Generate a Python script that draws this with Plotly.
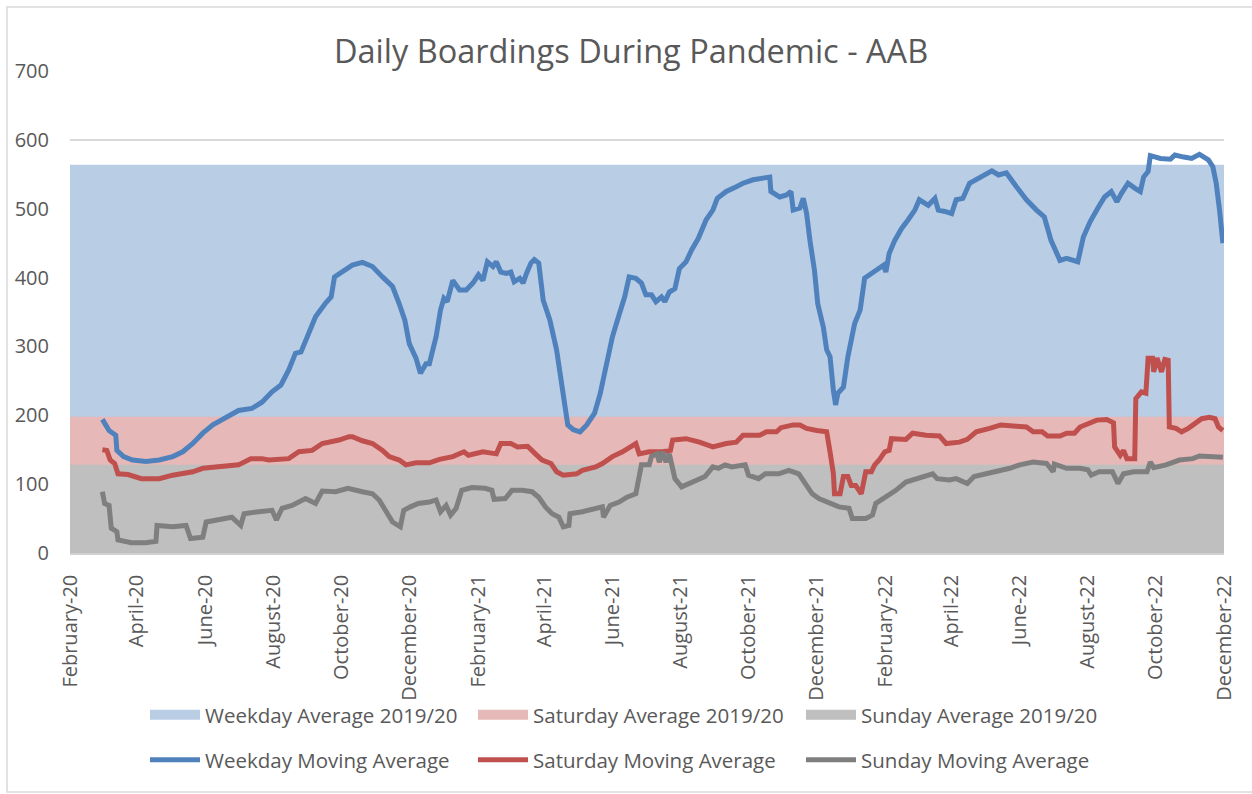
import plotly.graph_objects as go

# ---------------- data ----------------
title_text = "Daily Boardings During Pandemic - AAB"

period = ["2020-02-01", "2022-12-01"]
avg_weekday = 564
avg_saturday = 198
avg_sunday = 128

weekday_dates = [
    "2020-03-01", "2020-03-07", "2020-03-13", "2020-03-14", "2020-03-20", "2020-03-28", "2020-04-09", "2020-04-21",
    "2020-05-03", "2020-05-12", "2020-05-21", "2020-05-30", "2020-06-08", "2020-06-20", "2020-07-01", "2020-07-13",
    "2020-07-22", "2020-07-31", "2020-08-08", "2020-08-15", "2020-08-21", "2020-08-26", "2020-09-01", "2020-09-08",
    "2020-09-17", "2020-09-22", "2020-09-25", "2020-10-02", "2020-10-11", "2020-10-20", "2020-10-29", "2020-11-07",
    "2020-11-16", "2020-11-22", "2020-11-27", "2020-12-01", "2020-12-07", "2020-12-11", "2020-12-16", "2020-12-19",
    "2020-12-25", "2020-12-29", "2021-01-01", "2021-01-04", "2021-01-09", "2021-01-15", "2021-01-21", "2021-01-27",
    "2021-02-01", "2021-02-05", "2021-02-09", "2021-02-14", "2021-02-17", "2021-02-21", "2021-02-26", "2021-03-02",
    "2021-03-05", "2021-03-10", "2021-03-13", "2021-03-16", "2021-03-20", "2021-03-23", "2021-03-27", "2021-03-31",
    "2021-04-06", "2021-04-12", "2021-04-18", "2021-04-22", "2021-04-27", "2021-05-03", "2021-05-09", "2021-05-16",
    "2021-05-21", "2021-05-27", "2021-06-01", "2021-06-07", "2021-06-12", "2021-06-16", "2021-06-22", "2021-06-27",
    "2021-07-01", "2021-07-06", "2021-07-10", "2021-07-15", "2021-07-18", "2021-07-22", "2021-07-27", "2021-07-31",
    "2021-08-06", "2021-08-11", "2021-08-17", "2021-08-24", "2021-08-30", "2021-09-03", "2021-09-11", "2021-09-20",
    "2021-09-26", "2021-10-05", "2021-10-14", "2021-10-20", "2021-10-21", "2021-10-29", "2021-11-04", "2021-11-08",
    "2021-11-10", "2021-11-16", "2021-11-19", "2021-11-22", "2021-11-25", "2021-11-29", "2021-12-02", "2021-12-07",
    "2021-12-10", "2021-12-13", "2021-12-16", "2021-12-18", "2021-12-20", "2021-12-25", "2021-12-29", "2022-01-04",
    "2022-01-09", "2022-01-13", "2022-01-21", "2022-01-25", "2022-01-30", "2022-02-01", "2022-02-04", "2022-02-09",
    "2022-02-15", "2022-02-21", "2022-02-27", "2022-03-03", "2022-03-11", "2022-03-17", "2022-03-20", "2022-03-26",
    "2022-04-01", "2022-04-05", "2022-04-11", "2022-04-17", "2022-04-23", "2022-04-29", "2022-05-07", "2022-05-13",
    "2022-05-20", "2022-05-29", "2022-06-07", "2022-06-16", "2022-06-23", "2022-06-29", "2022-07-07", "2022-07-13",
    "2022-07-19", "2022-07-23", "2022-07-28", "2022-08-03", "2022-08-10", "2022-08-16", "2022-08-22", "2022-08-27",
    "2022-08-31", "2022-09-06", "2022-09-12", "2022-09-17", "2022-09-20", "2022-09-24", "2022-09-26", "2022-10-05",
    "2022-10-14", "2022-10-18", "2022-10-26", "2022-11-02", "2022-11-09", "2022-11-17", "2022-11-21", "2022-11-24",
    "2022-11-27", "2022-11-30",
]
weekday_values = [
    194, 178, 171, 149, 140, 135, 133, 135,
    140, 147, 159, 174, 186, 198, 207, 210,
    219, 234, 244, 266, 290, 292, 314, 343,
    363, 372, 401, 408, 418, 422, 416, 401,
    387, 362, 338, 304, 283, 261, 275, 275,
    314, 353, 370, 365, 396, 382, 382, 392,
    404, 396, 423, 416, 423, 408, 406, 408,
    394, 399, 392, 406, 421, 426, 421, 367,
    338, 295, 236, 186, 179, 176, 186, 203,
    231, 275, 314, 346, 372, 401, 399, 392,
    375, 375, 365, 372, 365, 379, 384, 413,
    423, 440, 457, 484, 498, 515, 525, 532,
    537, 542, 544, 546, 525, 517, 520, 525,
    498, 501, 515, 493, 454, 411, 362, 328,
    295, 285, 236, 215, 232, 241, 285, 333,
    353, 399, 408, 413, 418, 408, 435, 454,
    471, 484, 498, 513, 505, 515, 498, 496,
    493, 513, 515, 537, 542, 549, 555, 549,
    552, 532, 513, 498, 488, 454, 425, 428,
    425, 423, 459, 481, 501, 517, 525, 510,
    522, 537, 530, 525, 546, 554, 577, 573,
    572, 578, 575, 573, 579, 571, 561, 537,
    498, 450,
]

saturday_dates = [
    "2020-03-01", "2020-03-05", "2020-03-08", "2020-03-12", "2020-03-15", "2020-03-24", "2020-04-05", "2020-04-21",
    "2020-05-03", "2020-05-21", "2020-05-30", "2020-06-13", "2020-07-01", "2020-07-12", "2020-07-22", "2020-07-28",
    "2020-08-15", "2020-08-24", "2020-09-05", "2020-09-14", "2020-09-29", "2020-10-08", "2020-10-11", "2020-10-20",
    "2020-10-29", "2020-11-07", "2020-11-13", "2020-11-22", "2020-11-28", "2020-12-07", "2020-12-19", "2020-12-28",
    "2021-01-09", "2021-01-19", "2021-01-23", "2021-02-05", "2021-02-17", "2021-02-21", "2021-03-02", "2021-03-08",
    "2021-03-17", "2021-03-24", "2021-03-30", "2021-04-07", "2021-04-12", "2021-04-18", "2021-04-30", "2021-05-05",
    "2021-05-17", "2021-05-23", "2021-06-01", "2021-06-10", "2021-06-16", "2021-06-22", "2021-06-25", "2021-07-04",
    "2021-07-16", "2021-07-23", "2021-07-25", "2021-08-06", "2021-08-18", "2021-08-30", "2021-09-11", "2021-09-20",
    "2021-09-26", "2021-10-11", "2021-10-17", "2021-10-26", "2021-10-30", "2021-11-10", "2021-11-16", "2021-11-22",
    "2021-12-01", "2021-12-10", "2021-12-13", "2021-12-16", "2021-12-17", "2021-12-22", "2021-12-25", "2021-12-29",
    "2022-01-01", "2022-01-05", "2022-01-10", "2022-01-14", "2022-01-19", "2022-01-22", "2022-01-26", "2022-01-31",
    "2022-02-04", "2022-02-06", "2022-02-19", "2022-02-25", "2022-03-09", "2022-03-21", "2022-03-27", "2022-04-08",
    "2022-04-15", "2022-04-23", "2022-05-05", "2022-05-15", "2022-05-29", "2022-06-07", "2022-06-13", "2022-06-21",
    "2022-06-26", "2022-07-07", "2022-07-13", "2022-07-20", "2022-07-25", "2022-08-03", "2022-08-09", "2022-08-18",
    "2022-08-24", "2022-08-25", "2022-08-30", "2022-09-02", "2022-09-05", "2022-09-12", "2022-09-13", "2022-09-18",
    "2022-09-22", "2022-09-24", "2022-09-28", "2022-09-29", "2022-10-02", "2022-10-06", "2022-10-09", "2022-10-12",
    "2022-10-13", "2022-10-19", "2022-10-24", "2022-10-30", "2022-11-05", "2022-11-11", "2022-11-18", "2022-11-23",
    "2022-11-26", "2022-11-30",
]
saturday_values = [
    150, 149, 135, 130, 115, 114, 108, 108,
    113, 118, 123, 125, 128, 137, 137, 135,
    137, 147, 149, 159, 164, 169, 169, 163,
    159, 149, 140, 135, 128, 131, 131, 136,
    140, 147, 142, 147, 144, 159, 159, 154,
    155, 144, 135, 130, 118, 113, 115, 120,
    125, 130, 140, 147, 154, 159, 144, 147,
    147, 149, 164, 166, 161, 154, 159, 161,
    171, 171, 176, 176, 182, 186, 186, 181,
    178, 176, 147, 115, 86, 86, 111, 111,
    98, 98, 86, 118, 118, 128, 135, 147,
    149, 166, 165, 174, 171, 170, 159, 161,
    165, 176, 181, 186, 184, 183, 176, 176,
    170, 170, 174, 174, 183, 188, 193, 194,
    189, 154, 142, 149, 137, 137, 224, 234,
    232, 283, 283, 263, 283, 263, 281, 280,
    183, 181, 176, 181, 188, 195, 197, 195,
    183, 178,
]

sunday_dates = [
    "2020-03-01", "2020-03-03", "2020-03-07", "2020-03-09", "2020-03-14", "2020-03-15", "2020-03-27", "2020-04-09",
    "2020-04-18", "2020-04-19", "2020-05-03", "2020-05-15", "2020-05-19", "2020-05-30", "2020-06-02", "2020-06-13",
    "2020-06-25", "2020-07-03", "2020-07-06", "2020-07-19", "2020-07-31", "2020-08-04", "2020-08-09", "2020-08-18",
    "2020-08-30", "2020-09-08", "2020-09-14", "2020-09-26", "2020-10-07", "2020-10-20", "2020-10-29", "2020-11-04",
    "2020-11-10", "2020-11-16", "2020-11-23", "2020-11-26", "2020-12-02", "2020-12-09", "2020-12-19", "2020-12-25",
    "2020-12-29", "2021-01-03", "2021-01-07", "2021-01-12", "2021-01-17", "2021-01-26", "2021-02-07", "2021-02-13",
    "2021-02-15", "2021-02-25", "2021-03-03", "2021-03-12", "2021-03-21", "2021-03-27", "2021-04-02", "2021-04-08",
    "2021-04-14", "2021-04-18", "2021-04-23", "2021-04-24", "2021-05-05", "2021-05-17", "2021-05-23", "2021-05-24",
    "2021-05-30", "2021-06-07", "2021-06-14", "2021-06-22", "2021-06-27", "2021-07-04", "2021-07-06", "2021-07-11",
    "2021-07-13", "2021-07-16", "2021-07-19", "2021-07-22", "2021-07-27", "2021-08-02", "2021-08-11", "2021-08-23",
    "2021-08-30", "2021-09-04", "2021-09-10", "2021-09-16", "2021-09-28", "2021-10-01", "2021-10-10", "2021-10-16",
    "2021-10-28", "2021-11-06", "2021-11-15", "2021-11-21", "2021-11-27", "2021-12-03", "2021-12-12", "2021-12-21",
    "2021-12-30", "2022-01-02", "2022-01-14", "2022-01-20", "2022-01-23", "2022-02-01", "2022-02-10", "2022-02-19",
    "2022-02-28", "2022-03-03", "2022-03-15", "2022-03-19", "2022-03-30", "2022-04-05", "2022-04-15", "2022-04-21",
    "2022-05-02", "2022-05-14", "2022-05-23", "2022-06-01", "2022-06-13", "2022-06-25", "2022-07-01", "2022-07-02",
    "2022-07-13", "2022-07-25", "2022-08-01", "2022-08-04", "2022-08-11", "2022-08-23", "2022-08-28", "2022-09-02",
    "2022-09-11", "2022-09-23", "2022-09-26", "2022-09-29", "2022-10-10", "2022-10-22", "2022-11-03", "2022-11-09",
    "2022-11-21", "2022-11-30",
]
sunday_values = [
    89, 72, 69, 36, 31, 19, 15, 15,
    17, 40, 38, 40, 21, 23, 45, 48,
    52, 40, 57, 60, 62, 48, 65, 69,
    79, 72, 90, 89, 94, 89, 86, 77,
    62, 45, 38, 62, 67, 72, 74, 77,
    60, 69, 55, 65, 91, 95, 94, 91,
    78, 79, 91, 91, 89, 81, 67, 57,
    52, 38, 40, 57, 60, 65, 67, 52,
    69, 74, 81, 86, 128, 128, 140, 144,
    132, 147, 132, 144, 108, 96, 103, 111,
    125, 123, 128, 125, 128, 113, 108, 115,
    115, 120, 115, 101, 86, 79, 72, 67,
    65, 50, 50, 55, 72, 81, 91, 103,
    108, 110, 115, 108, 106, 108, 101, 111,
    115, 121, 123, 128, 132, 130, 118, 129,
    123, 123, 121, 113, 118, 118, 101, 115,
    118, 118, 132, 124, 128, 135, 137, 141,
    139, 139,
]

area_names = ["Weekday Average 2019/20", "Saturday Average 2019/20", "Sunday Average 2019/20"]
area_values = [avg_weekday, avg_saturday, avg_sunday]
area_colors = ["#B9CDE5", "#E6B9B8", "#BFBFBF"]

line_names = ["Weekday Moving Average", "Saturday Moving Average", "Sunday Moving Average"]
line_dates = [weekday_dates, saturday_dates, sunday_dates]
line_values = [weekday_values, saturday_values, sunday_values]
line_colors = ["#4F81BD", "#C0504D", "#7F7F7F"]

TEXT = "#595959"
FONT = "Open Sans"

fig = go.Figure()

# background average bands (drawn in order so the smaller ones sit on top)
for name, val, col in zip(area_names, area_values, area_colors):
    fig.add_trace(go.Scatter(
        x=period, y=[val, val], mode="lines", fill="tozeroy",
        fillcolor=col, line=dict(width=0, color=col),
        showlegend=False, hoverinfo="skip",
    ))

# legend entries for the bands
for name, col in zip(area_names, area_colors):
    fig.add_trace(go.Scatter(
        x=[None], y=[None], mode="lines", name=name,
        line=dict(color=col, width=14), legend="legend",
    ))

# moving average lines
for name, xs, ys, col in zip(line_names, line_dates, line_values, line_colors):
    fig.add_trace(go.Scatter(
        x=xs, y=ys, mode="lines", name=name,
        line=dict(color=col, width=5), legend="legend2",
    ))

legend_common = dict(
    orientation="h", xref="container", yref="container",
    x=145 / 1252, xanchor="left", yanchor="middle",
    entrywidth=263, entrywidthmode="pixels", itemwidth=50,
    font=dict(family=FONT, size=20.5, color=TEXT),
    bgcolor="rgba(0,0,0,0)", traceorder="normal",
)

fig.update_layout(
    width=1252, height=794,
    paper_bgcolor="white", plot_bgcolor="white",
    margin=dict(l=70, r=28, t=71, b=241, autoexpand=False),
    title=dict(
        text=title_text, x=0.504, xref="container", xanchor="center",
        y=1 - 52 / 794, yref="container", yanchor="middle",
        font=dict(family=FONT, size=32.5, color=TEXT),
    ),
    legend=dict(legend_common, y=(794 - 715) / 794),
    legend2=dict(legend_common, y=(794 - 760) / 794),
    xaxis=dict(
        type="date", range=period, tick0=period[0], dtick="M2",
        tickformat="%B-%y", tickangle=-90, automargin=False,
        tickfont=dict(family=FONT, size=20, color=TEXT),
        showgrid=False, showline=True, linecolor="#D0D0D0", linewidth=1.5,
        ticks="", ticklabelstandoff=12,
    ),
    yaxis=dict(
        range=[0, 700], dtick=100, tick0=0, automargin=False,
        tickfont=dict(family=FONT, size=20, color=TEXT),
        showgrid=True, gridcolor="#D9D9D9", gridwidth=1.5,
        zeroline=False, showline=False, ticks="", ticklabelstandoff=20,
    ),
    shapes=[dict(
        type="rect", xref="paper", yref="paper",
        x0=(7 - 70) / 1154, x1=1.05, y0=(553 - 792) / 482, y1=(553 - 7) / 482,
        line=dict(color="#D9D9D9", width=1.5), fillcolor="rgba(0,0,0,0)",
    )],
)

fig.write_html(
    "out.html",
    config={"displayModeBar": False},
    post_script="document.body.style.margin='0px';",
)
